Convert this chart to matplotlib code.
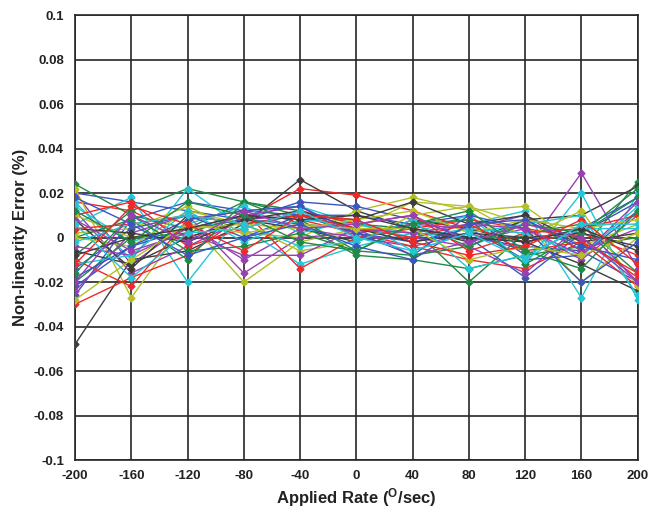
import matplotlib
matplotlib.use("Agg")
import matplotlib.pyplot as plt

plt.rcParams['font.family'] = ['Liberation Sans', 'DejaVu Sans']
plt.rcParams['mathtext.fontset'] = 'custom'
plt.rcParams['mathtext.bf'] = 'Liberation Sans:bold'
plt.rcParams['mathtext.rm'] = 'Liberation Sans:bold'
plt.rcParams['axes.unicode_minus'] = False

rates = [-200, -160, -120, -80, -40, 0, 40, 80, 120, 160, 200]

colors = ['#3a56c0', '#f02828', '#1f8a45', '#9a3fb0', '#22c6d6', '#b4c024', '#3c3c3c']

series = [
    [0.020, 0.016, 0.012, 0.008, 0.006, 0.004, 0.002, 0.000, -0.004, -0.006, -0.020],
    [0.016, 0.012, 0.000, 0.008, 0.022, 0.019, 0.012, 0.004, -0.002, 0.002, -0.008],
    [0.024, 0.010, 0.004, 0.016, 0.010, 0.002, 0.006, -0.004, 0.008, -0.006, 0.025],
    [0.020, -0.012, 0.006, -0.010, 0.004, 0.000, -0.004, 0.002, -0.006, 0.029, -0.014],
    [0.006, 0.018, -0.020, 0.012, 0.014, 0.006, 0.002, 0.006, 0.012, -0.027, 0.020],
    [0.022, -0.027, 0.008, -0.020, -0.002, 0.004, 0.016, 0.014, 0.006, -0.020, 0.000],
    [-0.048, -0.010, -0.006, 0.006, 0.026, 0.012, 0.004, -0.002, 0.008, 0.010, 0.023],
    [-0.026, 0.008, 0.016, 0.012, 0.010, 0.010, 0.006, 0.010, -0.008, 0.004, 0.018],
    [-0.030, -0.018, -0.008, 0.010, 0.008, 0.002, -0.004, -0.010, -0.014, -0.002, -0.022],
    [-0.008, 0.012, 0.022, 0.016, 0.012, 0.006, 0.004, -0.020, 0.002, 0.006, -0.016],
    [0.012, -0.016, -0.004, 0.008, 0.010, 0.004, -0.008, -0.002, 0.004, -0.010, 0.010],
    [0.016, -0.010, 0.022, 0.004, -0.012, -0.004, 0.002, 0.010, -0.012, 0.020, -0.028],
    [0.002, 0.004, 0.014, 0.002, 0.000, 0.012, 0.018, 0.012, 0.014, -0.004, 0.006],
    [-0.006, -0.012, 0.000, 0.008, 0.004, -0.002, 0.008, 0.004, -0.002, -0.012, -0.024],
    [-0.022, -0.004, 0.004, 0.008, 0.016, 0.014, 0.008, 0.000, -0.018, 0.002, 0.016],
    [-0.010, -0.022, 0.008, 0.012, -0.014, 0.000, 0.004, 0.008, 0.004, 0.000, -0.018],
    [0.000, 0.008, -0.010, 0.016, 0.006, -0.008, -0.010, -0.014, -0.008, -0.004, 0.000],
    [-0.024, 0.002, 0.010, -0.016, 0.000, 0.002, 0.006, 0.004, 0.010, -0.006, 0.004],
    [0.014, -0.002, 0.006, 0.014, 0.002, 0.008, -0.006, 0.002, 0.006, 0.010, -0.026],
    [0.000, -0.004, 0.012, 0.006, -0.006, -0.002, 0.010, 0.014, 0.000, 0.012, -0.022],
    [0.008, -0.014, 0.010, 0.006, 0.010, 0.008, 0.016, 0.006, 0.010, -0.002, 0.002],
    [-0.014, 0.004, 0.010, 0.000, 0.010, 0.002, -0.002, 0.004, -0.010, -0.008, 0.012],
    [0.010, 0.016, -0.004, 0.004, 0.012, 0.006, 0.010, -0.006, 0.002, 0.004, 0.010],
    [-0.020, 0.000, 0.002, 0.010, 0.008, -0.006, 0.006, 0.008, -0.012, 0.002, 0.018],
    [-0.004, -0.008, 0.004, 0.010, 0.014, 0.000, 0.000, -0.004, -0.016, 0.006, -0.020],
    [-0.012, -0.008, 0.012, -0.002, 0.008, 0.006, 0.000, 0.004, 0.002, -0.008, 0.014],
    [0.010, 0.000, 0.004, 0.006, 0.004, 0.008, 0.012, 0.002, 0.008, 0.004, 0.008],
    [0.004, 0.002, -0.002, 0.008, 0.012, 0.004, -0.002, 0.002, 0.000, 0.002, -0.004],
    [-0.018, -0.004, 0.008, 0.012, 0.014, 0.002, -0.008, 0.010, 0.004, -0.020, -0.002],
    [0.004, 0.006, 0.010, 0.006, 0.010, 0.004, 0.000, 0.006, -0.006, -0.002, -0.016],
    [-0.016, 0.010, -0.006, -0.004, 0.002, -0.006, -0.008, -0.004, 0.006, 0.002, 0.022],
    [0.008, -0.006, 0.002, -0.008, -0.008, 0.004, 0.002, 0.006, 0.004, -0.008, 0.016],
    [-0.002, 0.006, 0.010, 0.006, -0.004, -0.002, 0.008, -0.014, -0.008, 0.004, 0.004],
    [-0.028, -0.010, 0.006, 0.002, 0.006, 0.004, 0.004, -0.010, -0.004, -0.008, 0.002],
    [-0.008, 0.000, 0.004, 0.010, 0.008, 0.010, 0.004, 0.000, -0.002, 0.004, -0.006],
    [0.018, 0.006, -0.008, 0.000, 0.006, -0.004, -0.010, 0.006, 0.008, -0.004, -0.010],
    [-0.012, 0.014, 0.006, -0.006, 0.010, 0.008, -0.002, -0.008, -0.004, 0.008, -0.012],
    [0.012, -0.002, 0.016, 0.010, -0.002, -0.006, 0.006, 0.012, -0.006, -0.014, 0.012],
    [-0.020, 0.010, -0.002, 0.012, 0.004, 0.006, 0.010, -0.002, 0.006, 0.000, -0.020],
    [0.006, -0.018, 0.002, 0.004, 0.012, 0.000, -0.006, 0.002, -0.010, 0.006, 0.006],
]

fig = plt.figure(figsize=(6.49, 5.11), dpi=100)
ax = fig.add_axes([0.1156, 0.0998, 0.867, 0.8708])

for i, s in enumerate(series):
    c = colors[i % len(colors)]
    ax.plot(rates, s, color=c, lw=1.0, marker='D', ms=3.5, mec=c, mfc=c, zorder=3)

ax.set_xlim(-200, 200)
ax.set_ylim(-0.1, 0.1)
ax.set_xticks(range(-200, 201, 40))
ax.set_yticks([-0.1, -0.08, -0.06, -0.04, -0.02, 0, 0.02, 0.04, 0.06, 0.08, 0.1])
ax.set_yticklabels(['-0.1', '-0.08', '-0.06', '-0.04', '-0.02', '0', '0.02', '0.04', '0.06', '0.08', '0.1'])
ax.grid(True, color='#262626', lw=1.2, zorder=1)
ax.set_axisbelow(True)
for sp in ax.spines.values():
    sp.set_color('#262626')
    sp.set_linewidth(1.2)
ax.tick_params(length=0, labelsize=9.5)
ax.tick_params(axis='x', pad=7)
ax.tick_params(axis='y', pad=8)
for lab in ax.get_xticklabels() + ax.get_yticklabels():
    lab.set_fontweight('bold')
    lab.set_color('#222222')

ax.set_xlabel(r'Applied Rate ($\mathbf{^{O}}$/sec)', fontsize=12, fontweight='bold', color='#222222', labelpad=3)
ax.set_ylabel('Non-linearity Error (%)', fontsize=12, fontweight='bold', color='#222222', labelpad=4)

fig.savefig('out.png', dpi=100)
